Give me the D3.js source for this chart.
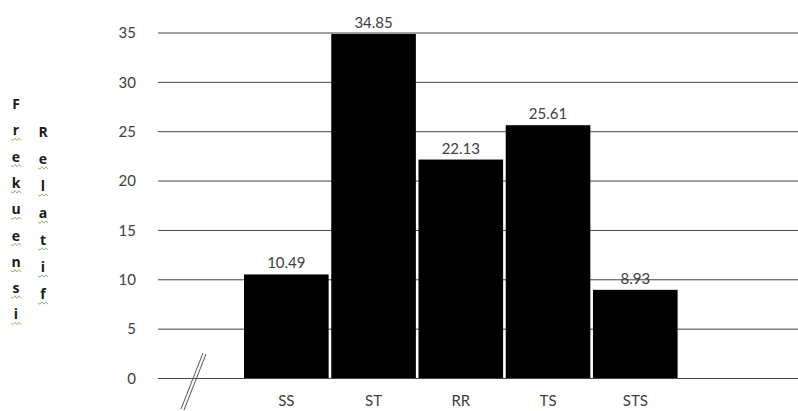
<!DOCTYPE html>
<meta charset="utf-8">
<style>
body { margin: 0; background: #fff; }
svg { display: block; }
.axis .domain { display: none; }
.axis text { font-family: "Lato", "Open Sans", sans-serif; font-size: 15px; fill: #404040; }
.grid line { stroke: #444; stroke-width: 1; }
</style>
<body>
<svg width="798" height="411"></svg>
<script src="https://d3js.org/d3.v7.min.js"></script>
<script>
// frekuensi relatif per kategori jawaban
var categories = ["SS", "ST", "RR", "TS", "STS"];
var values = [10.49, 34.85, 22.13, 25.61, 8.93];
var yTicks = [0, 5, 10, 15, 20, 25, 30, 35];
var titleLeft = "Frekuensi";
var titleRight = "Relatif";

var svg = d3.select("svg"),
    plotLeft = 158,
    plotRight = 798,
    y0 = 378,
    yTop = 32.5;

var x = d3.scaleBand()
    .domain(categories)
    .range([244, 677.6])
    .paddingInner(0.03)
    .paddingOuter(0);

var y = d3.scaleLinear()
    .domain([0, 35])
    .range([y0, yTop]);

// gridlines + tick labels
svg.append("g")
    .attr("class", "axis grid")
    .attr("transform", "translate(" + plotLeft + ",0)")
    .call(d3.axisLeft(y)
      .tickValues(yTicks)
      .tickSize(-(plotRight - plotLeft))
      .tickPadding(22))
  .selectAll("text")
    .attr("dy", "0.35em");

// bars
svg.append("g")
  .selectAll("rect")
  .data(values)
  .enter().append("rect")
    .attr("x", function(d, i) { return x(categories[i]); })
    .attr("y", function(d) { return y(d); })
    .attr("width", x.bandwidth())
    .attr("height", function(d) { return y(0) - y(d); })
    .attr("fill", "#000");

// value labels
svg.append("g")
  .selectAll("text")
  .data(values)
  .enter().append("text")
    .attr("x", function(d, i) { return x(categories[i]) + x.bandwidth() / 2; })
    .attr("y", function(d) { return y(d) - 6; })
    .attr("text-anchor", "middle")
    .attr("font-family", "Lato, 'Open Sans', sans-serif")
    .attr("font-size", 15)
    .attr("fill", "#404040")
    .text(function(d) { return d.toFixed(2); });

// category labels (kept just inside the bottom edge)
svg.append("g")
    .attr("class", "axis")
    .attr("transform", "translate(0," + y0 + ")")
    .call(d3.axisBottom(x).tickSize(0).tickPadding(17));

// axis break marks
var brk = svg.append("g").attr("stroke", "#555").attr("stroke-width", 1);
brk.append("line").attr("x1", 203).attr("y1", 353).attr("x2", 181).attr("y2", 409);
brk.append("line").attr("x1", 206).attr("y1", 354).attr("x2", 184).attr("y2", 410);

// vertical stacked y title
function stackTitle(word, cx, cy0, step) {
  var g = svg.append("g");
  word.split("").forEach(function(ch, i) {
    var cy = cy0 + i * step;
    g.append("text")
        .attr("x", cx)
        .attr("y", cy + 5)
        .attr("text-anchor", "middle")
        .attr("font-family", "'Open Sans', sans-serif")
        .attr("font-weight", "bold")
        .attr("font-size", 14)
        .attr("fill", "#1a1a1a")
        .text(ch);
    if (i > 0) {
      // spell-check squiggle
      var p = d3.path(), sx = cx - 5, sy = cy + 9;
      p.moveTo(sx, sy);
      for (var k = 0; k < 5; k++) p.lineTo(sx + (k + 1) * 2, sy + (k % 2 ? -1.2 : 1.2));
      g.append("path")
          .attr("d", p.toString())
          .attr("fill", "none")
          .attr("stroke", "#6aa84f")
          .attr("stroke-width", 0.8);
    }
  });
}
stackTitle(titleLeft, 16, 104, 26.3);
stackTitle(titleRight, 43, 132, 27);
</script>
</body>
